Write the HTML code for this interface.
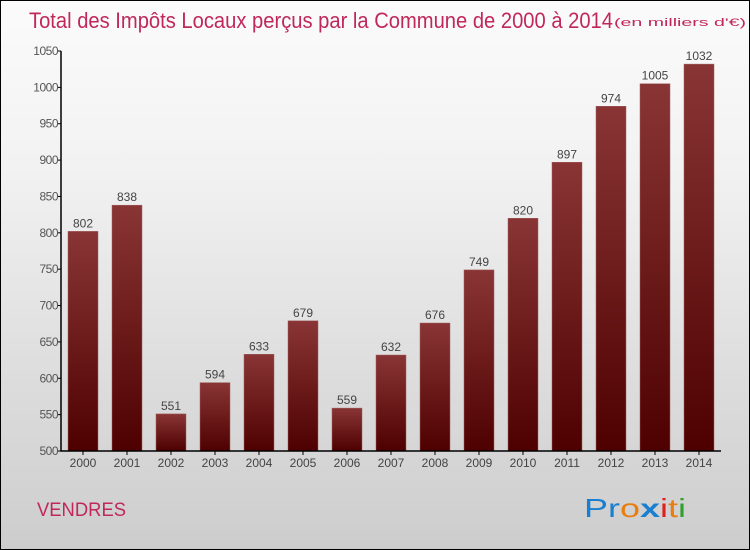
<!DOCTYPE html>
<html><head><meta charset="utf-8"><style>
body{margin:0}
#c{position:relative;width:750px;height:550px;box-sizing:border-box;border:1px solid #000;background:linear-gradient(#fbfbfb,#f2f2f2 30%,#dcdcdc 70%,#cdcdcd);font-family:"Liberation Sans",sans-serif;overflow:hidden}
</style></head><body>
<div id="c">
<svg width="750" height="550" style="position:absolute;left:0;top:0" id="svg">
<defs><linearGradient id="g" x1="0" y1="0" x2="0" y2="1"><stop offset="0" stop-color="#8a3535"/><stop offset="1" stop-color="#4e0000"/></linearGradient></defs>
<text x="28" y="27" font-size="22" fill="#c0285a" textLength="584" lengthAdjust="spacingAndGlyphs">Total des Impôts Locaux perçus par la Commune de 2000 à 2014</text>
<text x="613" y="25" font-size="11" fill="#c0285a" textLength="132" lengthAdjust="spacingAndGlyphs">(en milliers d'€)</text>
<text x="36" y="515" font-size="19" fill="#c0285a" textLength="89" lengthAdjust="spacingAndGlyphs">VENDRES</text>
<g font-size="26"><text x="583" y="516" textLength="102" lengthAdjust="spacingAndGlyphs"><tspan fill="#1a7fd0">Pr</tspan><tspan fill="#e87d10">o</tspan><tspan fill="#1a7fd0" font-weight="bold">x</tspan><tspan fill="#e02020">i</tspan><tspan fill="#e87d10">t</tspan><tspan fill="#30a030">i</tspan></text></g>
<g id="plot"></g>
</svg>
</div>
<script>
const years=["2000","2001","2002","2003","2004","2005","2006","2007","2008","2009","2010","2011","2012","2013","2014"];
const values=[802,838,551,594,633,679,559,632,676,749,820,897,974,1005,1032];
const ticks=[500,550,600,650,700,750,800,850,900,950,1000,1050];
const ns="http://www.w3.org/2000/svg",g=document.getElementById('plot');
const X0=60,SLOT=44,BW=30,Y0=450,Y1=50,VMIN=500,VMAX=1050;
const y=v=>Y0-(v-VMIN)/(VMAX-VMIN)*(Y0-Y1);
const xc=i=>X0+SLOT/2+SLOT*i;
function el(t,a){const e=document.createElementNS(ns,t);for(const k in a)e.setAttribute(k,a[k]);g.appendChild(e);return e;}
values.forEach((v,i)=>{
 const r=el('rect',{x:xc(i)-BW/2,y:y(v),width:BW,height:Y0-y(v),fill:'url(#g)',stroke:'#a06060','stroke-width':0.5});
 
 
 const t=el('text',{x:xc(i),y:y(v)-4,'text-anchor':'middle','font-size':12,fill:'#444'});t.textContent=v;
 
 
 const l=el('text',{x:xc(i),y:Y0+16,'text-anchor':'middle','font-size':12,fill:'#444'});l.textContent=years[i];
 
 
 el('line',{x1:xc(i),x2:xc(i),y1:Y0,y2:Y0+4,stroke:'#000'});
});
ticks.forEach(v=>{
 el('line',{x1:X0-3,x2:X0,y1:y(v),y2:y(v),stroke:'#000'});
 const t=el('text',{x:X0-3,y:y(v)+4,'text-anchor':'end','font-size':12,fill:'#555','letter-spacing':'-0.5'});t.textContent=v;
 
 
});
const ax=el('path',{d:`M${X0} ${Y1}V${Y0}H${X0+SLOT*years.length}`,stroke:'#000','stroke-width':1.5,fill:'none'});


</script>
</body></html>
